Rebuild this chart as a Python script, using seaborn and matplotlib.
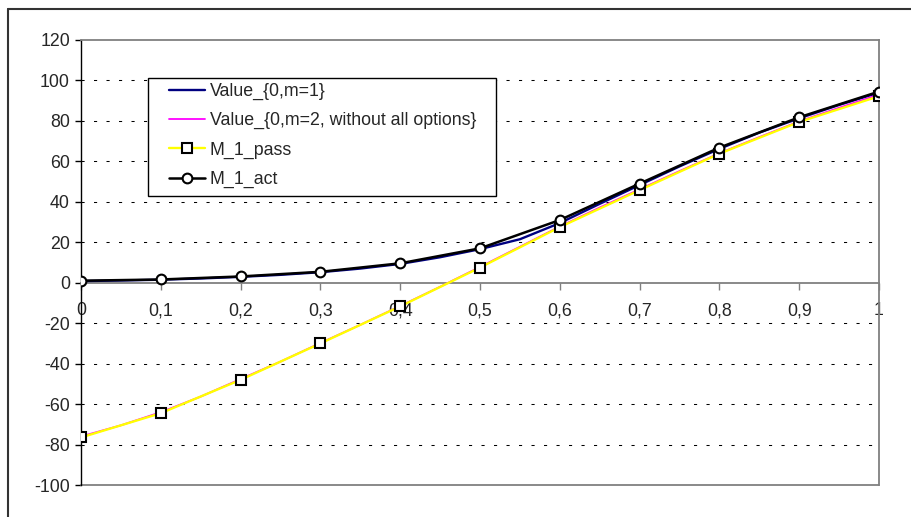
import numpy as np
import pandas as pd
import matplotlib
matplotlib.use("Agg")
import matplotlib.pyplot as plt
import matplotlib.patches as patches
from matplotlib.lines import Line2D
import seaborn as sns

# values
x_marks = [0.0, 0.1, 0.2, 0.3, 0.4, 0.5, 0.6, 0.7, 0.8, 0.9, 1.0]
m1_act = [1.0, 1.6, 3.1, 5.4, 9.6, 17.0, 31.0, 49.0, 66.8, 81.8, 94.5]
m1_pass = [-76.5, -64.5, -48.0, -30.0, -11.7, 7.5, 27.5, 45.8, 63.8, 79.5, 92.2]

x_fine = [0.0, 0.05, 0.1, 0.15, 0.2, 0.25, 0.3, 0.35, 0.4, 0.45, 0.5,
          0.55, 0.6, 0.65, 0.7, 0.75, 0.8, 0.85, 0.9, 0.95, 1.0]
value_m1 = [0.8, 1.1, 1.5, 2.1, 2.9, 3.9, 5.2, 7.0, 9.3, 12.6, 16.6,
            21.5, 29.5, 39.0, 48.3, 57.5, 66.2, 74.2, 81.3, 87.9, 94.0]
value_m2 = [-76.0, -70.5, -64.0, -56.3, -47.6, -39.0, -29.8, -20.8, -11.5, -2.0, 7.8,
            17.8, 27.8, 37.2, 46.2, 55.2, 64.0, 72.0, 79.8, 86.5, 93.0]

labels = ["Value_{0,m=1}", "Value_{0,m=2, without all options}", "M_1_pass", "M_1_act"]
x_ticklabels = ["0", "0,1", "0,2", "0,3", "0,4", "0,5", "0,6", "0,7", "0,8", "0,9", "1"]
y_ticks = [-100, -80, -60, -40, -20, 0, 20, 40, 60, 80, 100, 120]

FS = 12.8

sns.set_style("white")
plt.rcParams['font.family'] = ['Liberation Sans', 'DejaVu Sans']

W, H = 912, 517
fig = plt.figure(figsize=(W / 100, H / 100), dpi=100)
ax = fig.add_axes([81 / W, 1 - 485 / H, 798 / W, 445 / H])

fine = pd.DataFrame({"x": x_fine, "m1": value_m1, "m2": value_m2})
marks = pd.DataFrame({"x": x_marks, "act": m1_act, "pass": m1_pass})

sns.lineplot(data=fine, x="x", y="m1", ax=ax, color="#000080", lw=1.7, label=labels[0], zorder=3)
sns.lineplot(data=fine, x="x", y="m2", ax=ax, color="#FF00FF", lw=1.3, label=labels[1], zorder=3)
sns.lineplot(data=marks, x="x", y="pass", ax=ax, color="#FFFF00", lw=1.7, marker="s",
             markersize=7.5, markerfacecolor="white", markeredgecolor="black",
             markeredgewidth=1.5, label=labels[2], zorder=3)
sns.lineplot(data=marks, x="x", y="act", ax=ax, color="black", lw=1.8, marker="o",
             markersize=7, markerfacecolor="white", markeredgecolor="black",
             markeredgewidth=1.5, label=labels[3], zorder=3)

ax.set_xlim(0, 1)
ax.set_ylim(-100, 120)
ax.set_xlabel("")
ax.set_ylabel("")

# spines first: set_position resets the tick formatting
ax.spines["bottom"].set_position(("data", 0))
ax.spines["bottom"].set_color("#808080")
ax.spines["bottom"].set_linewidth(1.3)
ax.spines["left"].set_color("black")
ax.spines["left"].set_linewidth(1.0)
for s in ["top", "right"]:
    ax.spines[s].set_visible(True)
    ax.spines[s].set_color("#808080")
    ax.spines[s].set_linewidth(1.3)
ax.axhline(-100, color="#808080", lw=1.3, clip_on=False, zorder=2)

# dashed gridlines
for yv in y_ticks:
    if yv in (-100, 0, 120):
        continue
    ax.axhline(yv, color="black", lw=0.75, linestyle=(0, (3, 9)), zorder=1)

ax.set_xticks(x_marks)
ax.set_xticklabels(x_ticklabels, fontsize=FS)
ax.set_yticks(y_ticks)
ax.set_yticklabels([str(v) for v in y_ticks], fontsize=FS)
ax.tick_params(axis="x", direction="out", length=5, width=1, color="#808080", pad=9, bottom=True)
ax.tick_params(axis="y", direction="out", length=4, width=1, color="black", pad=4, left=True)

# legend with a hand-placed box
box = patches.Rectangle((148 / W, 1 - 196 / H), 348 / W, 118 / H, transform=fig.transFigure,
                        facecolor="white", edgecolor="black", lw=1.0, zorder=4)
ax.add_patch(box)
leg = ax.legend(loc="upper left", bbox_to_anchor=(169 / W, 1 - 83 / H), bbox_transform=fig.transFigure,
                frameon=False, fontsize=FS, borderpad=0, borderaxespad=0, handlelength=2.0,
                handletextpad=0.28, labelspacing=0.68)
leg.set_zorder(5)

# outer chart frame
fig.add_artist(Line2D([8 / W, 8 / W], [0, 1 - 9 / H], transform=fig.transFigure, color="#333333", lw=1.5))
fig.add_artist(Line2D([8 / W, 1], [1 - 9 / H, 1 - 9 / H], transform=fig.transFigure, color="#333333", lw=1.5))

fig.savefig("out.png", dpi=100)
